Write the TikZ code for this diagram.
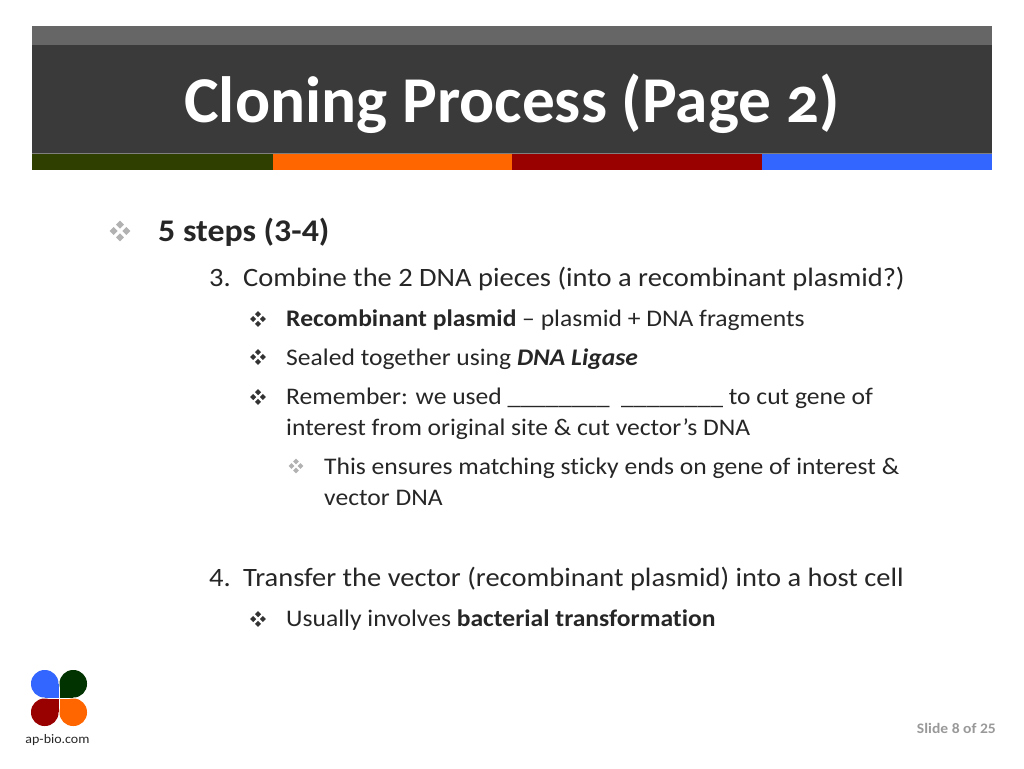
\documentclass[tikz,border=0pt]{standalone}
\usepackage{fontspec}
\setmainfont[FakeStretch=1.075,Ligatures=NoCommon]{Carlito}
\newfontfamily\titlefont[Numbers=OldStyle,Ligatures=NoCommon]{Carlito}
\definecolor{bartop}{HTML}{666666}
\definecolor{barmain}{HTML}{3A3A3A}
\definecolor{barline}{HTML}{7F7F7F}
\definecolor{leafgreen}{HTML}{2F3F00}
\definecolor{logogreen}{HTML}{003300}
\definecolor{leaforange}{HTML}{FF6600}
\definecolor{leafred}{HTML}{990000}
\definecolor{leafblue}{HTML}{3366FF}
\definecolor{bodytext}{HTML}{262626}
\tikzset{
  txt/.style={anchor=base west,inner sep=0pt,text=bodytext},
  lvlone/.style={txt,font=\fontsize{31.5}{36}\selectfont},
  lvltwo/.style={txt,font=\fontsize{26.5}{30}\selectfont},
  lvlthree/.style={txt,font=\fontsize{23.8}{30}\selectfont},
  bulmark/.pic={
    \fill (0,-4.9) -- (1.9,-3) -- (0,-1.1) -- (-1.9,-3) -- cycle;
    \fill (0,4.9) -- (1.9,3) -- (0,1.1) -- (-1.9,3) -- cycle;
    \fill (-4.9,0) -- (-3,1.9) -- (-1.1,0) -- (-3,-1.9) -- cycle;
    \fill (4.9,0) -- (3,1.9) -- (1.1,0) -- (3,-1.9) -- cycle;
  },
  bul/.style={fill=black!80,scale=1.6},
  paleb/.style={fill=black!30,scale=1.5},
}
\begin{document}
\begin{tikzpicture}[x=1pt,y=-1pt]
\useasboundingbox (0,0) rectangle (1024,768);

% title bar
\fill[bartop] (31.7,26) rectangle (992,45);
\fill[barmain] (31.7,45) rectangle (992,153);
\fill[barline] (31.7,153) rectangle (992,154);
\fill[leafgreen] (31.7,154) rectangle (273,170);
\fill[leaforange] (273,154) rectangle (512,170);
\fill[leafred] (512,154) rectangle (762,170);
\fill[leafblue] (762,154) rectangle (992,170);
\node[inner sep=0pt,text=white,font=\titlefont\bfseries\fontsize{65.4}{66}\selectfont,anchor=base] (title) at (512,122) {Cloning Process (Page 2)};

% main text
\pic[fill=black!30,scale=2.1] at (120,231) {bulmark};
\node[lvlone] (t1) at (158,241) {\bfseries 5 steps (3-4)};

\node[lvltwo] (n3) at (209,286) {3.};
\node[lvltwo] (t3) at (243,286) {Combine the 2 DNA pieces (into a recombinant plasmid?)};

\pic[bul] at (258,319) {bulmark};
\node[lvlthree] (t4) at (286,326) {\textbf{Recombinant plasmid} – plasmid + DNA fragments};
\pic[bul] at (258,357) {bulmark};
\node[lvlthree] (t5) at (286,365) {Sealed together using \textbf{\itshape DNA Ligase}};
\pic[bul] at (258,397) {bulmark};
\node[lvlthree] (t6) at (286,404) {Remember: we used \_\_\_\_\_\_\_\_\ \ \_\_\_\_\_\_\_\_ to cut gene of};
\node[lvlthree] (t7) at (286,435) {interest from original site \& cut vector’s DNA};

\pic[paleb] at (296,466) {bulmark};
\node[lvlthree] (t8) at (324,474) {This ensures matching sticky ends on gene of interest \&};
\node[lvlthree] (t9) at (324,505) {vector DNA};

\node[lvltwo] (n4) at (209,586.5) {4.};
\node[lvltwo] (t10) at (243,586.5) {Transfer the vector (recombinant plasmid) into a host cell};
\pic[bul] at (258,619) {bulmark};
\node[lvlthree] (t11) at (286,626) {Usually involves \textbf{bacterial transformation}};

% logo
\fill[leafblue,rounded corners=13.5] (31,670) rectangle (58.5,697.5);
\fill[leafblue] (45,684) rectangle (58.5,697.5);
\fill[logogreen,rounded corners=13.5] (59.5,670) rectangle (87,697.5);
\fill[logogreen] (59.5,684) rectangle (73,697.5);
\fill[leafred,rounded corners=13.5] (31,698.5) rectangle (58.5,726);
\fill[leafred] (45,698.5) rectangle (58.5,712);
\fill[leaforange,rounded corners=13.5] (59.5,698.5) rectangle (87,726);
\fill[leaforange] (59.5,698.5) rectangle (73,712);
\node[txt,anchor=base,font=\fontsize{13}{14}\selectfont] (logotext) at (57.5,743) {ap-bio.com};

\node[inner sep=0pt,anchor=base east,text=black!40,font=\bfseries\fontsize{14.5}{16}\selectfont] (slideno) at (996,733) {Slide 8 of 25};

\end{tikzpicture}
\end{document}
